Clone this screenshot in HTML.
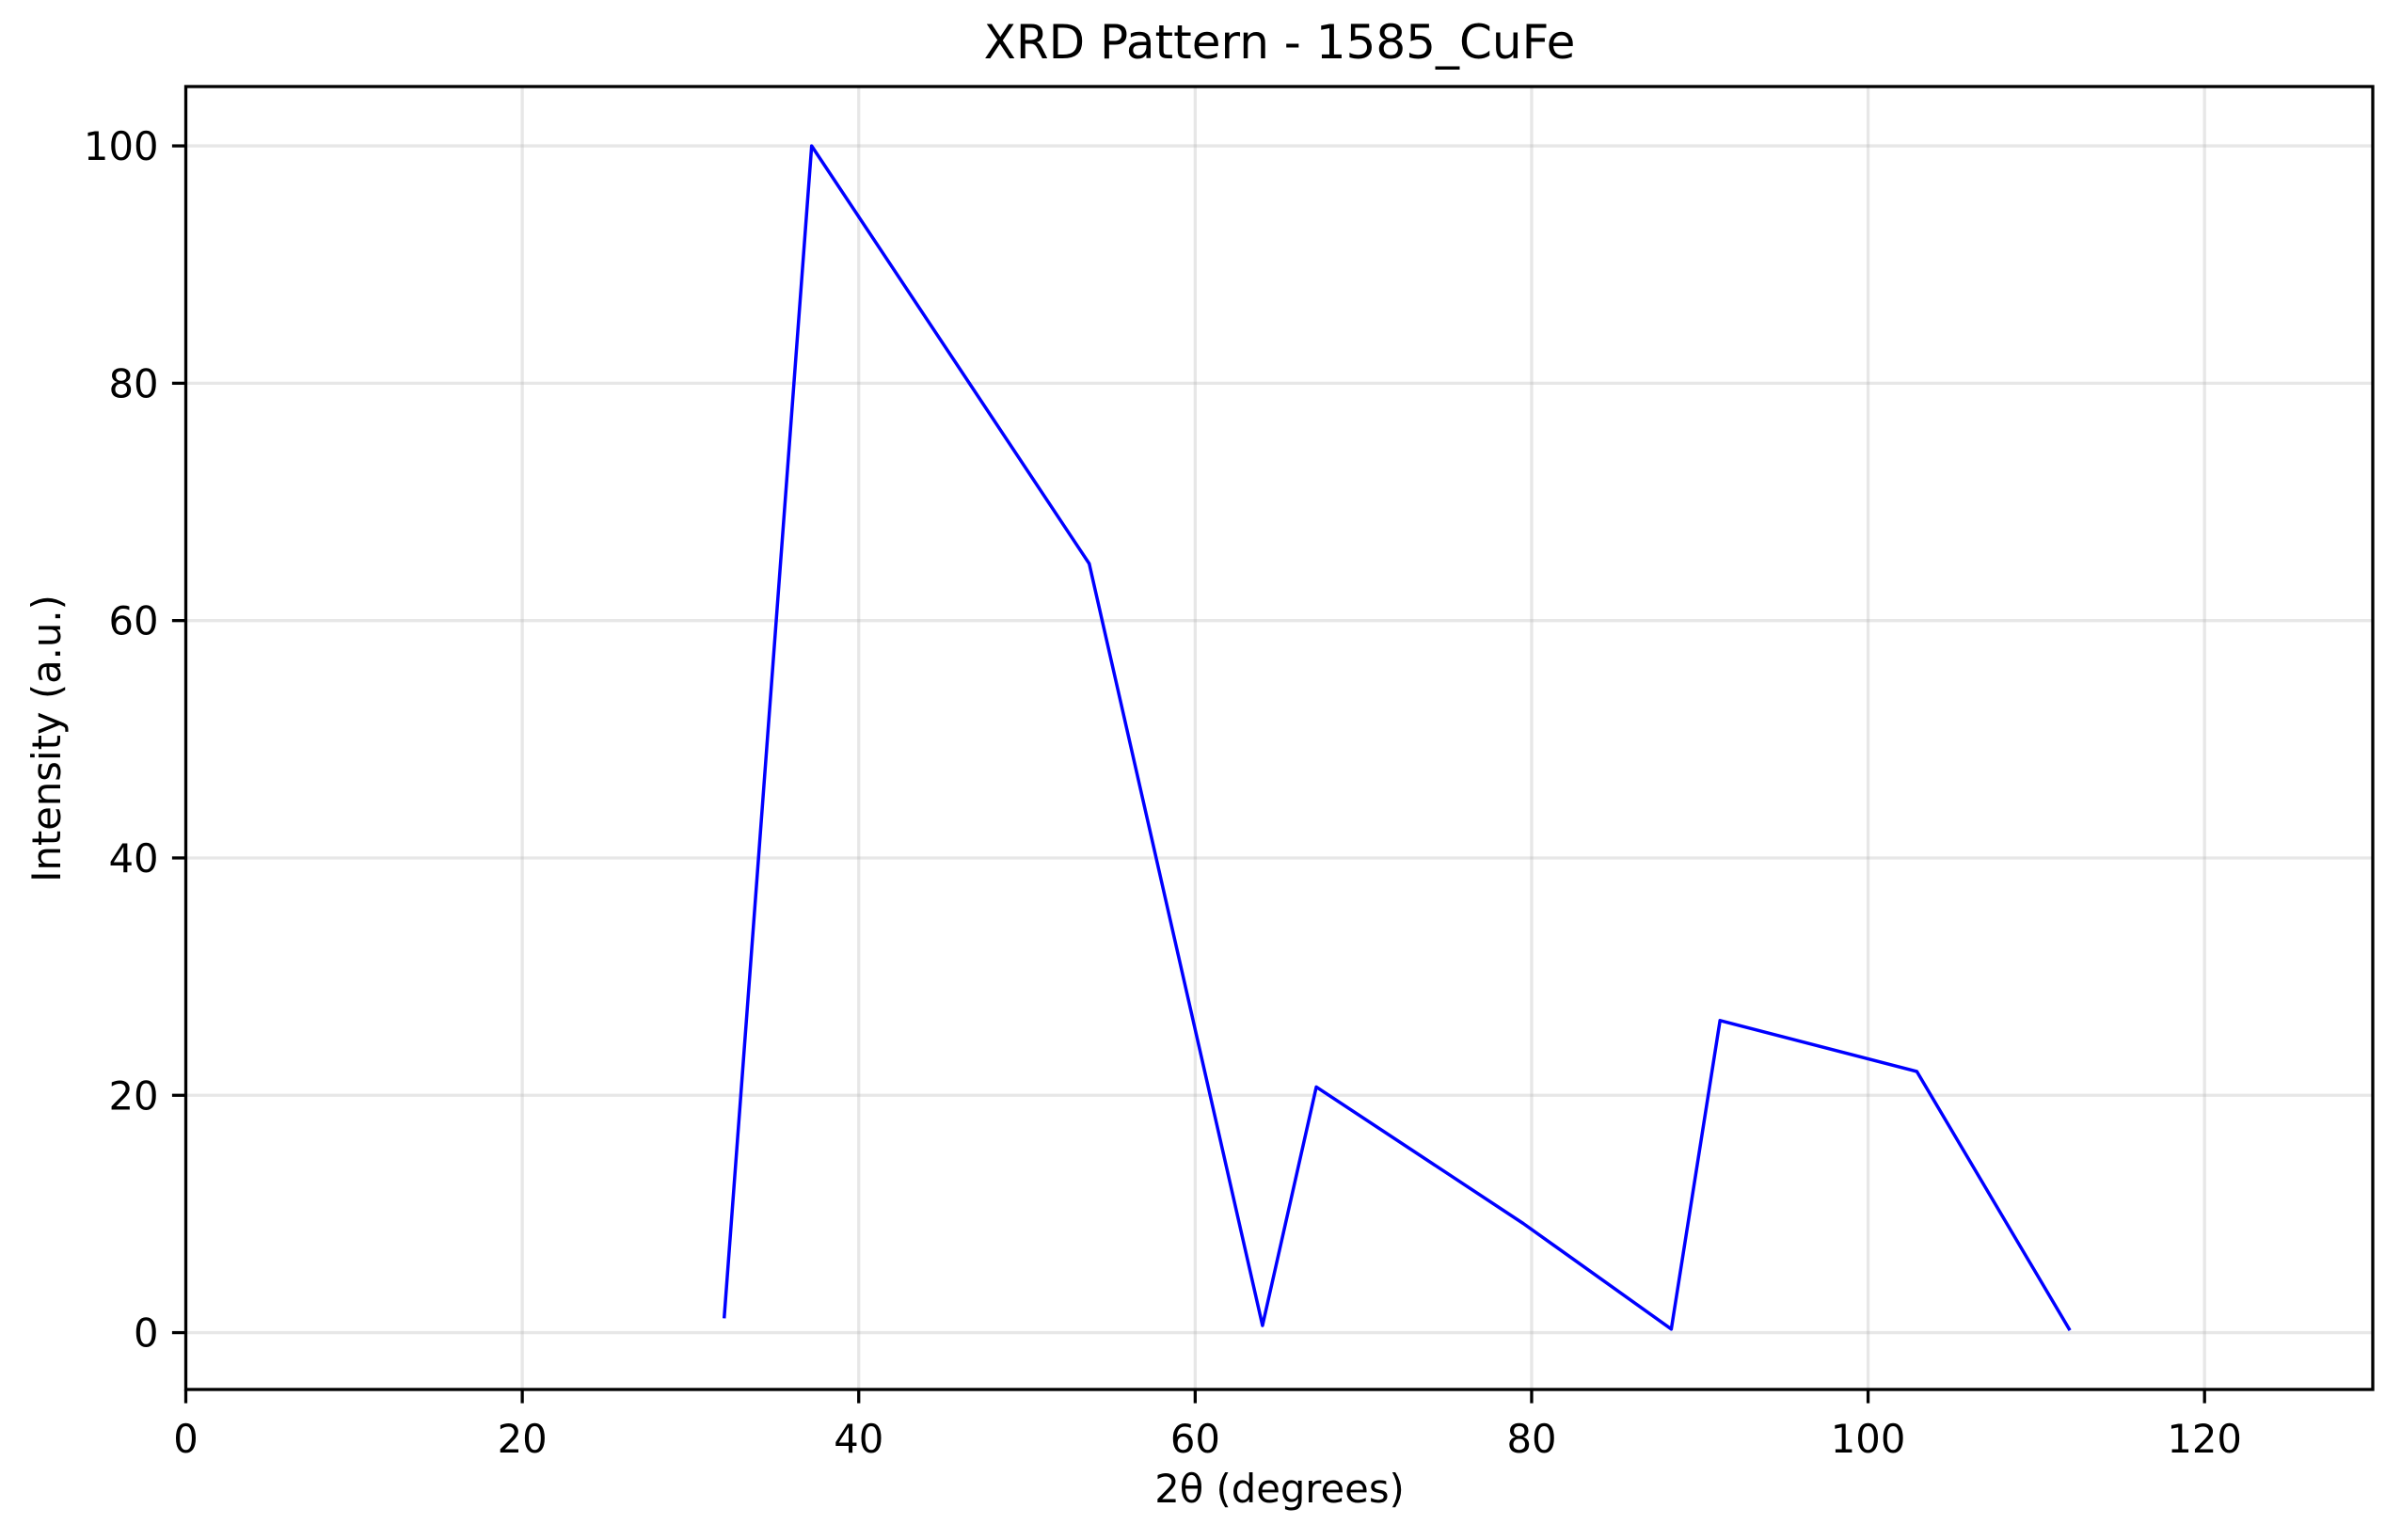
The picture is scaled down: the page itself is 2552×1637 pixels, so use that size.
<!DOCTYPE html>
<html><head><meta charset="utf-8"><style>html,body{margin:0;padding:0;background:#fff}svg{display:block}text{font-family:"DejaVu Sans","Liberation Sans",sans-serif;fill:#000}</style></head>
<body>
<svg id="chart" width="2552" height="1637" xmlns="http://www.w3.org/2000/svg">
<rect width="2552" height="1637" fill="#fff"/>
<text x="1360" y="62" font-size="50" text-anchor="middle">XRD Pattern - 1585_CuFe</text>
<text x="1360" y="1597" font-size="41.7" text-anchor="middle">2θ (degrees)</text>
<text transform="translate(64,785) rotate(-90)" font-size="41.7" text-anchor="middle">Intensity (a.u.)</text>
<g id="grid"></g><g id="ticks"></g><g id="series"></g>
<rect x="197.5" y="92" width="2324.5" height="1385" fill="none" stroke="#000" stroke-width="3.3"/>
</svg>
<script>
const xVals = [32.0, 37.2, 53.7, 64.0, 67.2, 79.5, 88.3, 91.2, 102.9, 112.0];
const yVals = [1.2, 100, 64.8, 0.6, 20.7, 9.2, 0.3, 26.3, 22.0, 0.2];
const xTicks = [0, 20, 40, 60, 80, 100, 120];
const yTicks = [0, 20, 40, 60, 80, 100];
const L=197.5,R=2522,T=92,B=1477,X0=0,X1=130,Y0=-4.79,Y1=105;
const sx=v=>L+(v-X0)/(X1-X0)*(R-L);
const sy=v=>B-(v-Y0)/(Y1-Y0)*(B-T);
const NS='http://www.w3.org/2000/svg';
function mk(t,a,p){const e=document.createElementNS(NS,t);for(const k in a)e.setAttribute(k,a[k]);p.appendChild(e);return e;}
const g=document.getElementById('grid'),tk=document.getElementById('ticks'),s=document.getElementById('series');
xTicks.forEach(v=>{const x=sx(v);
 const gl=mk('line',{x1:x,x2:x,y1:T,y2:B,stroke:'#b0b0b0','stroke-opacity':0.3,'stroke-width':3.3},g);
 
 
 const tl=mk('line',{x1:x,x2:x,y1:B,y2:B+14.6,stroke:'#000','stroke-width':3.3},tk);
 
 
 const t=mk('text',{x:x,y:B+67,'font-size':41.7,'text-anchor':'middle'},tk);t.textContent=v;
 
 
});
yTicks.forEach(v=>{const y=sy(v);
 const gl=mk('line',{x1:L,x2:R,y1:y,y2:y,stroke:'#b0b0b0','stroke-opacity':0.3,'stroke-width':3.3},g);
 
 
 const tl=mk('line',{x1:L-14.6,x2:L,y1:y,y2:y,stroke:'#000','stroke-width':3.3},tk);
 
 
 const t=mk('text',{x:L-29,y:y+15,'font-size':41.7,'text-anchor':'end'},tk);t.textContent=v;
 
 
});
const pts=xVals.map((x,i)=>sx(x).toFixed(1)+','+sy(yVals[i]).toFixed(1)).join(' ');
const pl=mk('polyline',{points:pts,fill:'none',stroke:'#0000ff','stroke-width':3.5,'stroke-linejoin':'round'},s);


</script>
</body></html>
